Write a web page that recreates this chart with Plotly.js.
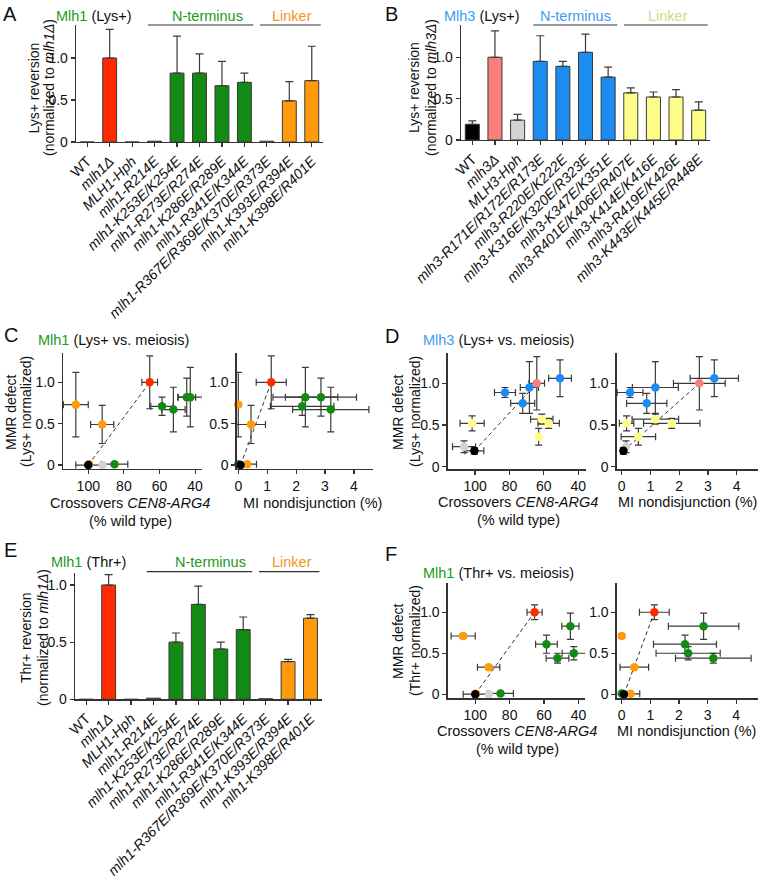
<!DOCTYPE html>
<html>
<head>
<meta charset="utf-8">
<script src="https://cdn.plot.ly/plotly-3.0.1.min.js"></script>
<style>
  body { margin: 0; background: #fff; }
  #graph { width: 760px; height: 881px; }
</style>
</head>
<body>
<div id="graph"></div>
<script>
var W = 760, H = 881;
var FONT = "Liberation Sans, Arial, Helvetica, sans-serif";
var AX = "#333333";

// ---------- Mlh1 strains (panels A, C, E, F)
var mlh1Strains = ["WT", "mlh1Δ", "MLH1-Hph", "mlh1-R214E", "mlh1-K253E/K254E", "mlh1-R273E/R274E",
	"mlh1-K286E/R289E", "mlh1-R341E/K344E", "mlh1-R367E/R369E/K370E/R373E", "mlh1-K393E/R394E", "mlh1-K398E/R401E"];
var mlh1Groups = ["wt", "null", "hph", "nterm", "nterm", "nterm", "nterm", "nterm", "linker", "linker", "linker"];
// Lys+ reversion (A), bar error (A) and scatter error (C)
var mlh1Lys    = [0, 1.0, 0, 0.01, 0.82, 0.82, 0.67, 0.71, 0.01, 0.49, 0.73];
var mlh1LysErr = [NaN, 0.34, NaN, NaN, 0.44, 0.23, 0.29, 0.11, NaN, 0.23, 0.41];
var mlh1LysSd  = [NaN, 0.32, NaN, NaN, 0.36, 0.23, 0.27, 0.11, NaN, 0.23, 0.39];
// Thr+ reversion (E, F)
var mlh1Thr    = [0, 1.0, 0, 0.01, 0.50, 0.83, 0.44, 0.61, 0.005, 0.33, 0.71];
var mlh1ThrErr = [NaN, 0.09, NaN, NaN, 0.08, 0.16, 0.06, 0.11, NaN, 0.02, 0.03];
// meiosis: crossovers CEN8-ARG4 (% wild type) and MI nondisjunction (%)
var mlh1Cross   = [100, 65.5, 92, 85.3, 42.7, 44.7, 52.2, 58.6, 99.5, 92.2, 107];
var mlh1CrossSd = [7, 4.4, NaN, 7.5, 6.8, 5, 6.6, 6.3, NaN, 6.5, 7];
var mlh1MI      = [0.08, 1.14, 0.1, 0.0, 2.32, 2.86, 3.2, 2.21, 0.31, 0.44, 0.0];
var mlh1MISd    = [NaN, 0.52, NaN, NaN, 1.12, 1.23, 1.32, 1.1, 0.32, 0.5, NaN];

// ---------- Mlh3 strains (panels B, D)
var mlh3Strains = ["WT", "mlh3Δ", "MLH3-Hph", "mlh3-R171E/R172E/R173E", "mlh3-R220E/K222E", "mlh3-K316E/K320E/R323E",
	"mlh3-K347E/K351E", "mlh3-R401E/K406E/R407E", "mlh3-K414E/K416E", "mlh3-R419E/K426E", "mlh3-K443E/K445E/R448E"];
var mlh3Groups = ["wt", "null", "hph", "nterm", "nterm", "nterm", "nterm", "linker", "linker", "linker", "linker"];
var mlh3Lys    = [0.19, 1.0, 0.24, 0.95, 0.89, 1.06, 0.76, 0.57, 0.52, 0.52, 0.36];
var mlh3LysErr = [0.04, 0.32, 0.07, 0.31, 0.06, 0.22, 0.12, 0.06, 0.06, 0.09, 0.10];
var mlh3Cross   = [100.4, 64.1, 106.4, 68.4, 82.6, 50.6, 72.3, 61.2, 57.2, 101.7, 63];
var mlh3CrossSd = [5.5, 4.5, 6.7, 5.3, 6.1, 6.6, 7, 6.5, 6.2, 7, NaN];
var mlh3MI      = [0.06, 2.7, 0.15, 1.17, 0.29, 3.22, 0.87, 1.17, 1.74, 0.17, 0.58];
var mlh3MISd    = [NaN, 0.9, NaN, 0.8, 0.45, 0.84, 0.7, 0.81, 0.98, 0.25, 0.6];

var mlh1Colors = { wt: "#000000", "null": "#ff2a00", hph: "#d3d3d3", nterm: "#138a13", linker: "#ff9a0a" };
var mlh3Colors = { wt: "#000000", "null": "#f8807a", hph: "#d3d3d3", nterm: "#1b8cf0", linker: "#fdfd88" };
var drawOrder = [8, 9, 10, 3, 4, 5, 6, 7, 2, 1, 0];

function fx(px) { return px / W; }
function fy(py) { return 1 - py / H; }

function tickLabel(s)
{
	return s == "WT" ? s : "<i>" + s + "</i>";
}

function barTrace(vals, errs, groups, colors, xa, ya)
{
	return {
		type: "bar",
		x: vals.map(function (v, i) { return i; }),
		y: vals,
		xaxis: xa, yaxis: ya,
		width: 0.62,
		marker: {
			color: groups.map(function (g) { return colors[g]; }),
			line: { color: "#3a3a3a", width: 1 }
		},
		error_y: {
			type: "data", symmetric: false, array: errs,
			arrayminus: errs.map(function (e) { return isNaN(e) ? NaN : 0; }),
			color: "#3a3a3a", thickness: 1.2, width: 4
		},
		hoverinfo: "skip"
	};
}

function scatterTrace(xs, xsd, ys, ysd, groups, colors, xa, ya)
{
	var t = { x: [], y: [], ex: [], ey: [], c: [] };
	drawOrder.forEach(function (i) {
		t.x.push(xs[i]); t.y.push(ys[i]);
		t.ex.push(xsd[i]); t.ey.push(ysd[i]);
		t.c.push(colors[groups[i]]);
	});
	return {
		type: "scatter", mode: "markers",
		x: t.x, y: t.y, xaxis: xa, yaxis: ya,
		marker: { size: 8.5, color: t.c },
		error_x: { type: "data", array: t.ex, color: "#3a3a3a", thickness: 1.2, width: 3.5 },
		error_y: { type: "data", array: t.ey, color: "#3a3a3a", thickness: 1.2, width: 3.5 },
		cliponaxis: false,
		hoverinfo: "skip"
	};
}

// dashed line joining wild type and the null mutant
function nullLine(xs, ys, xa, ya)
{
	return {
		type: "scatter", mode: "lines",
		x: [xs[0], xs[1]], y: [ys[0], ys[1]],
		xaxis: xa, yaxis: ya,
		line: { color: "#333", width: 1, dash: "4px,3px" },
		hoverinfo: "skip"
	};
}

function axisBase(o)
{
	var a = {
		showgrid: false, zeroline: false, showline: true,
		linecolor: AX, linewidth: 1.3,
		ticks: "outside", ticklen: 4, tickwidth: 1.2, tickcolor: AX,
		tickfont: { family: FONT, size: 14, color: "#111" },
		fixedrange: true
	};
	for (var k in o) a[k] = o[k];
	return a;
}

function catX(x0, x1, names, anchor)
{
	return axisBase({
		domain: [fx(x0), fx(x1)], range: [-0.5, names.length - 0.5], anchor: anchor,
		tickvals: names.map(function (n, i) { return i; }),
		ticktext: names.map(tickLabel),
		tickangle: -45,
		tickfont: { family: FONT, size: 14.3, color: "#111" }
	});
}

function valY(y0, y1, range, anchor)
{
	return axisBase({
		domain: [fy(y0), fy(y1)], range: range, anchor: anchor,
		tickvals: [0, 0.5, 1], ticktext: ["0", "0.5", "1.0"]
	});
}

function crossX(x0, x1, range, anchor)
{
	return axisBase({ domain: [fx(x0), fx(x1)], range: range, anchor: anchor, tickvals: [100, 80, 60, 40] });
}

function miX(x0, x1, range, anchor)
{
	return axisBase({ domain: [fx(x0), fx(x1)], range: range, anchor: anchor, tickvals: [0, 1, 2, 3, 4] });
}

function txt(px, py, text, size, extra)
{
	var a = {
		xref: "paper", yref: "paper", x: fx(px), y: fy(py),
		text: text, showarrow: false,
		font: { family: FONT, size: size || 14.5, color: "#111" },
		xanchor: "center", yanchor: "middle"
	};
	for (var k in extra) a[k] = extra[k];
	return a;
}

function vtxt(px, py, text)
{
	return txt(px, py, text, 14, { textangle: -90 });
}

function col(c, s)
{
	return "<span style=\"color:" + c + "\">" + s + "</span>";
}

var GREEN = "#1a9a1a", ORANGE = "#f7941d", BLUE = "#3c9cf0", KHAKI = "#d6d68a";

function groupLine(xa, groups, g, py)
{
	var first = groups.indexOf(g), last = groups.lastIndexOf(g);
	return {
		type: "line", xref: xa, yref: "paper",
		x0: first - 0.3, x1: last + 0.4, y0: fy(py), y1: fy(py),
		line: { color: "#333", width: 1.2 }
	};
}

var data = [
	barTrace(mlh1Lys, mlh1LysErr, mlh1Groups, mlh1Colors, "x", "y"),
	barTrace(mlh3Lys, mlh3LysErr, mlh3Groups, mlh3Colors, "x2", "y2"),
	nullLine(mlh1Cross, mlh1Lys, "x3", "y3"),
	scatterTrace(mlh1Cross, mlh1CrossSd, mlh1Lys, mlh1LysSd, mlh1Groups, mlh1Colors, "x3", "y3"),
	nullLine(mlh1MI, mlh1Lys, "x4", "y4"),
	scatterTrace(mlh1MI, mlh1MISd, mlh1Lys, mlh1LysSd, mlh1Groups, mlh1Colors, "x4", "y4"),
	nullLine(mlh3Cross, mlh3Lys, "x5", "y5"),
	scatterTrace(mlh3Cross, mlh3CrossSd, mlh3Lys, mlh3LysErr, mlh3Groups, mlh3Colors, "x5", "y5"),
	nullLine(mlh3MI, mlh3Lys, "x6", "y6"),
	scatterTrace(mlh3MI, mlh3MISd, mlh3Lys, mlh3LysErr, mlh3Groups, mlh3Colors, "x6", "y6"),
	barTrace(mlh1Thr, mlh1ThrErr, mlh1Groups, mlh1Colors, "x7", "y7"),
	nullLine(mlh1Cross, mlh1Thr, "x8", "y8"),
	scatterTrace(mlh1Cross, mlh1CrossSd, mlh1Thr, mlh1ThrErr, mlh1Groups, mlh1Colors, "x8", "y8"),
	nullLine(mlh1MI, mlh1Thr, "x9", "y9"),
	scatterTrace(mlh1MI, mlh1MISd, mlh1Thr, mlh1ThrErr, mlh1Groups, mlh1Colors, "x9", "y9")
];

var layout = {
	width: W, height: H,
	margin: { l: 0, r: 0, t: 0, b: 0 },
	paper_bgcolor: "#fff", plot_bgcolor: "rgba(0,0,0,0)",
	showlegend: false,
	font: { family: FONT, color: "#111" },

	// A
	xaxis: catX(76, 323, mlh1Strains, "y"),
	yaxis: valY(142, 25, [0, 1.393], "x"),
	// B
	xaxis2: catX(461, 710, mlh3Strains, "y2"),
	yaxis2: valY(140, 25, [0, 1.39], "x2"),
	// C
	xaxis3: crossX(63, 201.7, [114.2, 36.3], "y3"),
	yaxis3: valY(469, 353, [-0.048, 1.354], "x3"),
	xaxis4: miX(236.7, 373, [-0.055, 4.66], "y4"),
	yaxis4: valY(469, 353, [-0.048, 1.354], "x4"),
	// D
	xaxis5: crossX(447.7, 586, [115.9, 35.5], "y5"),
	yaxis5: valY(469.3, 353.3, [-0.031, 1.36], "x5"),
	xaxis6: miX(616.7, 758, [-0.174, 4.74], "y6"),
	yaxis6: valY(469.3, 353.3, [-0.031, 1.36], "x6"),
	// E
	xaxis7: catX(75, 321.7, mlh1Strains, "y7"),
	yaxis7: valY(699.3, 573, [0, 1.105], "x7"),
	// F
	xaxis8: crossX(447.7, 585, [116, 36.2], "y8"),
	yaxis8: valY(698.3, 583, [-0.05, 1.357], "x8"),
	xaxis9: miX(616.7, 758, [-0.175, 4.76], "y9"),
	yaxis9: valY(698.3, 583, [-0.05, 1.357], "x9"),

	shapes: [
		groupLine("x", mlh1Groups, "nterm", 25),
		groupLine("x", mlh1Groups, "linker", 25),
		groupLine("x2", mlh3Groups, "nterm", 25),
		groupLine("x2", mlh3Groups, "linker", 25),
		groupLine("x7", mlh1Groups, "nterm", 571.7),
		groupLine("x7", mlh1Groups, "linker", 571.7)
	],

	annotations: [
		// panel letters
		txt(10, 14, "A", 20), txt(391, 14, "B", 20),
		txt(11, 335, "C", 20), txt(392, 336, "D", 20),
		txt(10, 550, "E", 20), txt(391, 554, "F", 20),

		// A
		txt(94, 16, col(GREEN, "Mlh1") + " (Lys+)"),
		txt(207, 16, col(GREEN, "N-terminus")),
		txt(292, 16, col(ORANGE, "Linker")),
		vtxt(33.5, 88, "Lys+ reversion"),
		vtxt(49, 88, "(normalized to <i>mlh1Δ</i>)"),

		// B
		txt(482, 16, col(BLUE, "Mlh3") + " (Lys+)"),
		txt(575, 16, col(BLUE, "N-terminus")),
		txt(668, 16, col(KHAKI, "Linker")),
		vtxt(414, 88, "Lys+ reversion"),
		vtxt(431, 88, "(normalized to <i>mlh3Δ</i>)"),

		// C
		txt(36, 340, col(GREEN, "Mlh1") + " (Lys+ vs. meiosis)", 14.5, { xanchor: "left" }),
		vtxt(11, 412, "MMR defect"),
		vtxt(26, 412, "(Lys+ normalized)"),
		txt(130, 503, "Crossovers <i>CEN8-ARG4</i>"),
		txt(130, 521, "(% wild type)"),
		txt(312, 503, "MI nondisjunction (%)"),

		// D
		txt(421, 340, col(BLUE, "Mlh3") + " (Lys+ vs. meiosis)", 14.5, { xanchor: "left" }),
		vtxt(398, 412, "MMR defect"),
		vtxt(415, 412, "(Lys+ normalized)"),
		txt(518, 502, "Crossovers <i>CEN8-ARG4</i>"),
		txt(518, 520, "(% wild type)"),
		txt(687, 502, "MI nondisjunction (%)"),

		// E
		txt(88, 562, col(GREEN, "Mlh1") + " (Thr+)"),
		txt(211, 562, col(GREEN, "N-terminus")),
		txt(292, 562, col(ORANGE, "Linker")),
		vtxt(26, 638, "Thr+ reversion"),
		vtxt(43, 638, "(normalized to <i>mlh1Δ</i>)"),

		// F
		txt(421, 573, col(GREEN, "Mlh1") + " (Thr+ vs. meiosis)", 14.5, { xanchor: "left" }),
		vtxt(398, 641, "MMR defect"),
		vtxt(415, 641, "(Thr+ normalized)"),
		txt(517, 731, "Crossovers <i>CEN8-ARG4</i>"),
		txt(517, 749, "(% wild type)"),
		txt(686, 731, "MI nondisjunction (%)")
	]
};

Plotly.newPlot("graph", data, layout, { staticPlot: true });
</script>
</body>
</html>
